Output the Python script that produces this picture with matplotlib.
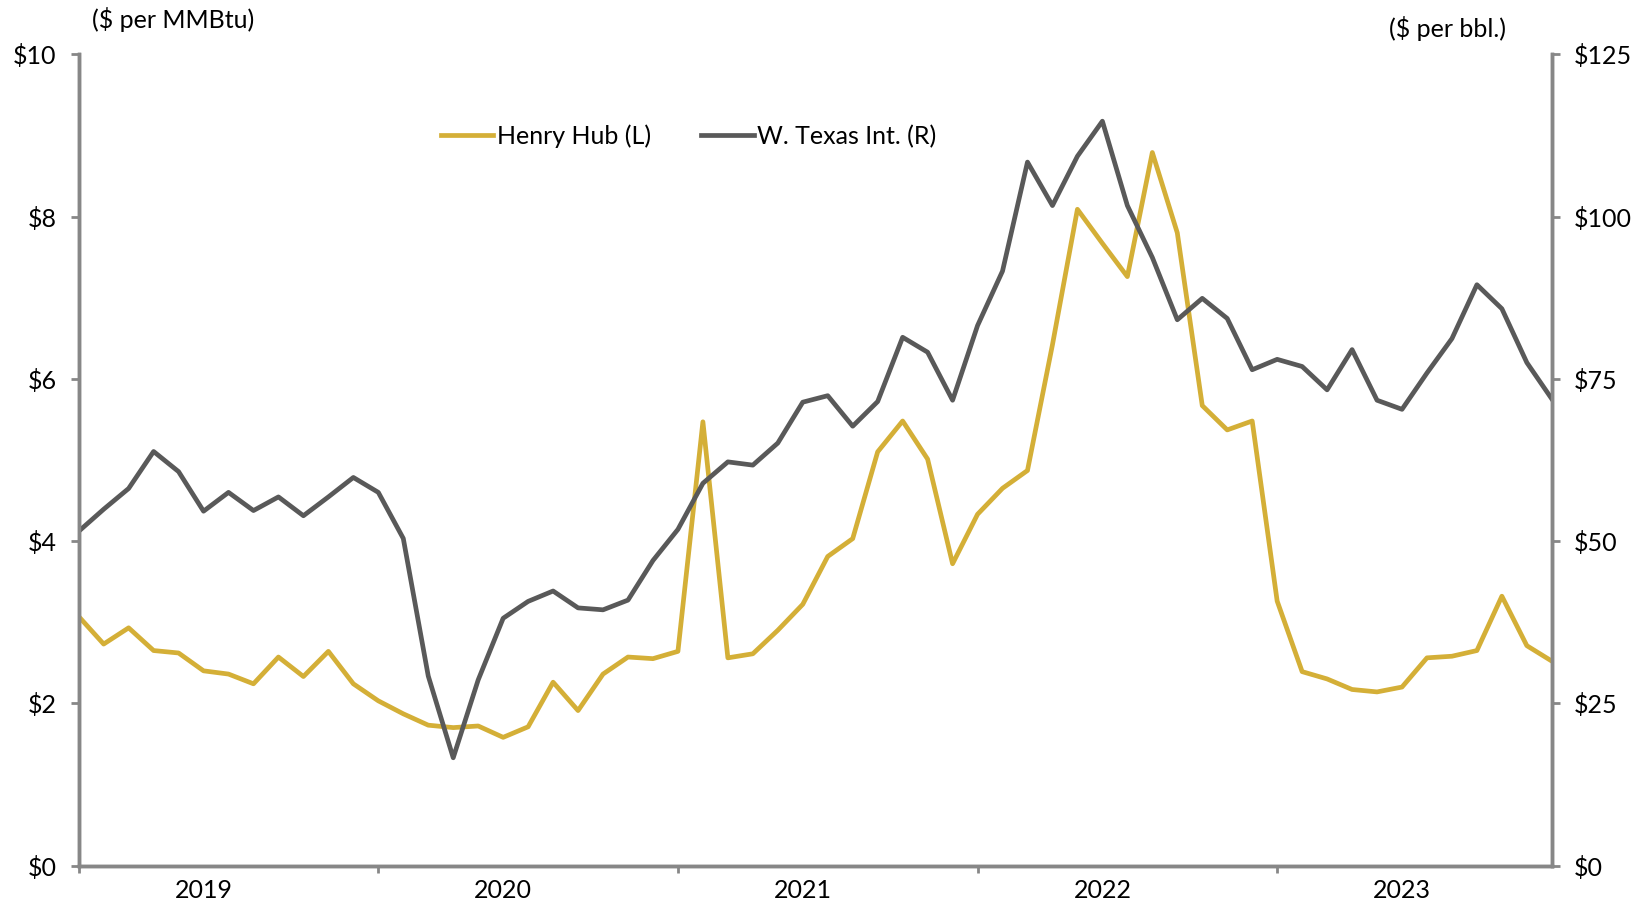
import matplotlib.pyplot as plt
import numpy as np

# Monthly averages, Jan 2019 - Dec 2023
henry_hub = [3.07, 2.73, 2.93, 2.65, 2.62, 2.40, 2.36, 2.24, 2.57, 2.33, 2.64, 2.24,
             2.03, 1.87, 1.73, 1.70, 1.72, 1.58, 1.71, 2.26, 1.91, 2.36, 2.57, 2.55,
             2.64, 5.47, 2.56, 2.61, 2.90, 3.22, 3.81, 4.03, 5.10, 5.48, 5.01, 3.72,
             4.33, 4.65, 4.87, 6.42, 8.09, 7.67, 7.26, 8.79, 7.80, 5.67, 5.37, 5.48,
             3.26, 2.39, 2.30, 2.17, 2.14, 2.20, 2.56, 2.58, 2.65, 3.32, 2.71, 2.52]
wti = [51.5, 54.9, 58.1, 63.8, 60.7, 54.6, 57.5, 54.7, 56.8, 53.9, 56.8, 59.8,
       57.5, 50.4, 29.2, 16.6, 28.6, 38.1, 40.7, 42.3, 39.7, 39.4, 40.9, 47.0,
       51.8, 58.9, 62.2, 61.7, 65.1, 71.4, 72.4, 67.7, 71.5, 81.4, 79.1, 71.7,
       83.2, 91.6, 108.4, 101.7, 109.3, 114.7, 101.7, 93.7, 84.1, 87.4, 84.3, 76.4,
       78.0, 76.9, 73.3, 79.5, 71.7, 70.3, 75.9, 81.2, 89.5, 85.8, 77.5, 71.9]
years = ['2019', '2020', '2021', '2022', '2023']
left_ticks = [0, 2, 4, 6, 8, 10]
right_ticks = [0, 25, 50, 75, 100, 125]

gold = '#D4AF37'
dark = '#595959'
spine_gray = '#878787'
fs = 18

plt.rcParams['font.family'] = 'Lato'
months = np.arange(len(henry_hub))

fig = plt.figure(figsize=(16.43, 9.06), dpi=100)
ax = fig.add_axes([0.0479, 0.0447, 0.8966, 0.8953])
ax2 = ax.twinx()

l1, = ax.plot(months, henry_hub, color=gold, lw=3.4, label='Henry Hub (L)')
l2, = ax2.plot(months, wti, color=dark, lw=3.4, label='W. Texas Int. (R)')

ax.set_xlim(0, len(months) - 1)
ax.set_ylim(0, 10)
ax2.set_ylim(0, 125)
ax.set_yticks(left_ticks)
ax.set_yticklabels([f'${v}' for v in left_ticks])
ax2.set_yticks(right_ticks)
ax2.set_yticklabels([f'${v}' for v in right_ticks])

ax.set_xticks(np.arange(0, len(months), 12))
ax.set_xticklabels([])
ax.set_xticks(np.arange(5, len(months), 12), minor=True)
ax.set_xticklabels(years, minor=True)
ax.tick_params(axis='x', which='minor', length=0, pad=10, labelsize=fs)
ax.tick_params(axis='x', which='major', length=5, width=2, color=spine_gray)
ax.tick_params(axis='y', length=6, width=2, color=spine_gray, labelsize=fs, pad=10)
ax2.tick_params(axis='y', length=6, width=2, color=spine_gray, labelsize=fs, pad=10)

for a in (ax, ax2):
    a.spines['top'].set_visible(False)
    for s in ('left', 'right', 'bottom'):
        a.spines[s].set_color(spine_gray)
        a.spines[s].set_linewidth(2.5)

fig.text(0.056, 0.979, '($ per MMBtu)', fontsize=fs, ha='left', va='center')
fig.text(0.881, 0.968, '($ per bbl.)', fontsize=fs, ha='center', va='center')

ax.legend(handles=[l1, l2], loc='center', bbox_to_anchor=(0.414, 0.899), ncol=2,
          frameon=False, fontsize=fs, handlelength=2.1, handletextpad=0.15,
          columnspacing=2.0)

plt.savefig('out.png', dpi=100)
plt.close()
